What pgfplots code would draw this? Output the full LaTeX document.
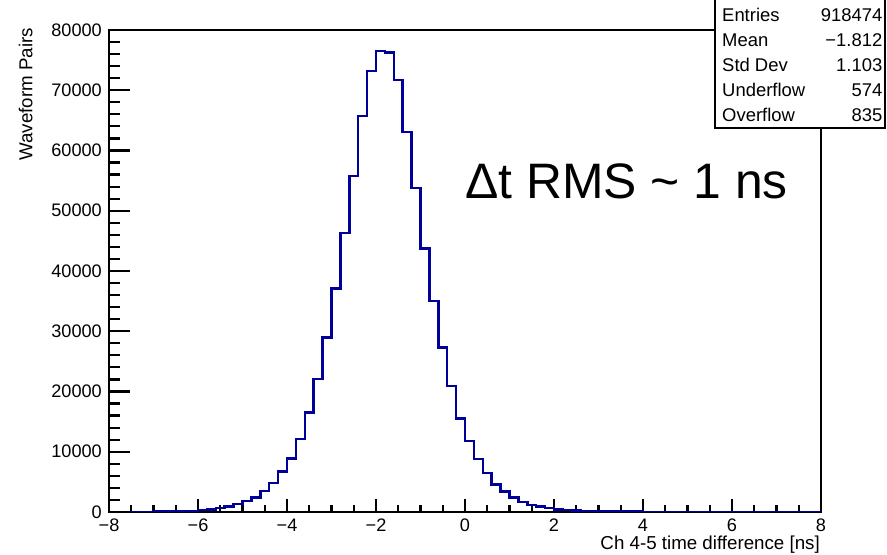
\documentclass[border=0pt]{standalone}
\usepackage{pgfplots}
\pgfplotsset{compat=1.18}
\usepackage{fontspec}
\setmainfont{Liberation Sans}
\definecolor{histblue}{RGB}{0,0,153}
\begin{document}
\begin{tikzpicture}[x=1bp,y=1bp]
\path[use as bounding box] (0,0) rectangle (887,555);
\begin{axis}[at={(109bp,43bp)}, anchor=south west, scale only axis,
  width=712bp, height=482bp,
  xmin=-8, xmax=8, ymin=0, ymax=80000,
  axis line style={line width=2bp},
  tick align=inside, tick pos=left,
  xtick={-8,-6,...,8}, xticklabels={−8,−6,−4,−2,0,2,4,6,8},
  minor x tick num=3,
  major tick length=13bp, minor tick length=6.5bp,
  every tick/.style={draw=black, line width=2.2bp},
  every minor tick/.style={draw=black, line width=2.2bp},
  every major tick/.style={draw=black, line width=2.2bp},
  xticklabel style={font=\fontsize{18.2}{21}\selectfont, anchor=north, inner sep=0pt, yshift=-7bp},
  ytick=\empty,
]
\addplot[const plot, histblue, line width=2.5bp, no marks] coordinates {
(-8.0,12) (-7.8,15) (-7.6,20) (-7.4,25) (-7.2,35) (-7.0,50) (-6.8,70) (-6.6,100) (-6.4,140) (-6.2,200)
(-6.0,300) (-5.8,450) (-5.6,650) (-5.4,950) (-5.2,1300) (-5.0,1800) (-4.8,2400) (-4.6,3450) (-4.4,4800) (-4.2,6750)
(-4.0,8900) (-3.8,12100) (-3.6,16500) (-3.4,22100) (-3.2,29000) (-3.0,37100) (-2.8,46300) (-2.6,55800) (-2.4,65700) (-2.2,73200)
(-2.0,76500) (-1.8,76300) (-1.6,71700) (-1.4,63100) (-1.2,53800) (-1.0,43700) (-0.8,35000) (-0.6,27300) (-0.4,20900) (-0.2,15500)
(0.0,11800) (0.2,8800) (0.4,6500) (0.6,4600) (0.8,3400) (1.0,2400) (1.2,1700) (1.4,1200) (1.6,900) (1.8,650)
(2.0,450) (2.2,330) (2.4,240) (2.6,180) (2.8,140) (3.0,110) (3.2,90) (3.4,70) (3.6,60) (3.8,50)
(4.0,40) (4.2,35) (4.4,30) (4.6,26) (4.8,23) (5.0,20) (5.2,18) (5.4,16) (5.6,14) (5.8,12)
(6.0,11) (6.2,10) (6.4,9) (6.6,8) (6.8,7) (7.0,6) (7.2,6) (7.4,5) (7.6,5) (7.8,4) (8.0,4)
};
\end{axis}
\begin{axis}[at={(109bp,43bp)}, anchor=south west, scale only axis,
  width=712bp, height=482bp,
  xmin=-8, xmax=8, ymin=0, ymax=80000,
  axis line style={draw=none},
  tick align=inside, tick pos=left,
  xtick=\empty,
  ytick={0,10000,...,80000},
  yticklabels={0,10000,20000,30000,40000,50000,60000,70000,80000},
  scaled y ticks=false,
  minor y tick num=4,
  major tick length=21bp, minor tick length=10.5bp,
  every tick/.style={draw=black, line width=2.2bp},
  every minor tick/.style={draw=black, line width=2.2bp},
  every major tick/.style={draw=black, line width=2.2bp},
  yticklabel style={font=\fontsize{18.2}{21}\selectfont, anchor=east, inner sep=0pt, xshift=-7bp},
]
\end{axis}
\node[rotate=90, anchor=base east, inner sep=0pt, font=\fontsize{18.8}{22}\selectfont] at (32.3,527) {Waveform Pairs};
\node[anchor=base east, inner sep=0pt, font=\fontsize{18.8}{22}\selectfont] at (820,5.5) {Ch 4-5 time difference [ns]};
\node[anchor=base west, inner sep=0pt, font=\fontsize{50}{57}\selectfont] at (465,356) {Δt RMS \textasciitilde{} 1 ns};
\filldraw[fill=white, draw=black, line width=1.3bp] (715,427) rectangle (885,555.5);
\begin{scope}[every node/.style={inner sep=0pt, font=\fontsize{18.5}{21}\selectfont}]
\node[anchor=base west] at (722,533.3) {Entries};
\node[anchor=base east] at (882.5,533.3) {918474};
\node[anchor=base west] at (722,508.3) {Mean};
\node[anchor=base east] at (882.5,508.3) {−1.812};
\node[anchor=base west] at (722,483.3) {Std Dev};
\node[anchor=base east] at (882.5,483.3) {1.103};
\node[anchor=base west] at (722,458.3) {Underflow};
\node[anchor=base east] at (882.5,458.3) {574};
\node[anchor=base west] at (722,433.3) {Overflow};
\node[anchor=base east] at (882.5,433.3) {835};
\end{scope}
\end{tikzpicture}
\end{document}
